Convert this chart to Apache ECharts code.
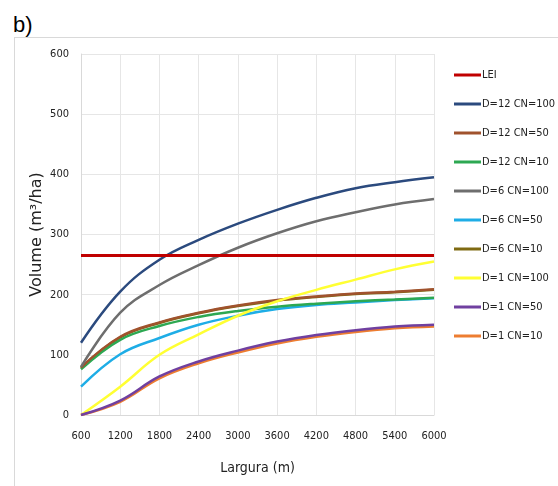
<!DOCTYPE html>
<html>
<head>
<meta charset="utf-8">
<script src="https://cdn.jsdelivr.net/npm/echarts@6/dist/echarts.min.js"></script>
<style>
html,body{margin:0;padding:0;background:#fff;}
#wrap{position:relative;width:558px;height:486px;overflow:hidden;}
#frame{position:absolute;left:14px;top:37px;width:600px;height:500px;border:1px solid #d9d9d9;box-sizing:border-box;}
#lbl{position:absolute;left:13px;top:12px;font-family:"Liberation Sans",Arial,sans-serif;font-size:22px;color:#000;}
#chart{position:absolute;left:0;top:0;width:558px;height:486px;}
</style>
</head>
<body>
<div id="wrap">
<div id="frame"></div>
<div id="lbl">b)</div>
<div id="chart"></div>
</div>
<script>
const larguras = [600, 1200, 1800, 2400, 3000, 3600, 4200, 4800, 5400, 6000];
const seriesNames = ["LEI", "D=12 CN=100", "D=12 CN=50", "D=12 CN=10", "D=6 CN=100", "D=6 CN=50", "D=6 CN=10", "D=1 CN=100", "D=1 CN=50", "D=1 CN=10"];
const lei        = [265, 265, 265, 265, 265, 265, 265, 265, 265, 265];
const d12cn100   = [120, 205, 258, 291, 318, 341, 361, 377, 387, 395];
const d12cn50    = [79, 130, 154, 170, 182, 191, 197, 202, 205, 209];
const d12cn10    = [76, 125, 148, 163, 173, 180, 185, 189, 192, 195];
const d6cn100    = [80, 170, 216, 249, 278, 302, 322, 337, 350, 359];
const d6cn50     = [47, 101, 128, 150, 165, 176, 183, 187, 191, 194];
const d6cn10     = [78, 129, 153, 169, 181, 190, 196, 201, 204, 208];
const d1cn100    = [0, 47, 100, 134, 165, 189, 208, 225, 242, 255];
const d1cn50     = [0, 24, 64, 89, 107, 122, 133, 141, 147, 150];
const d1cn10     = [0, 22, 61, 86, 104, 119, 130, 138, 144, 147];
const yTicks = [0, 100, 200, 300, 400, 500, 600];

const values = [lei, d12cn100, d12cn50, d12cn10, d6cn100, d6cn50, d6cn10, d1cn100, d1cn50, d1cn10];
const colors = ["#C00000", "#2B4A7E", "#A0522D", "#2DA852", "#6E6E6E", "#1EADE6", "#7F6A12", "#FFFF33", "#7040A0", "#ED7D31"];
const zOrder = [10, 9, 5, 4, 8, 3, 1, 6, 7, 6];

const chart = echarts.init(document.getElementById('chart'), null, {renderer: 'canvas'});
const narrow = '"Liberation Sans Narrow","DejaVu Sans Condensed",sans-serif';
chart.setOption({
  animation: false,
  grid: {left: 81, right: 124, top: 54, bottom: 71, containLabel: false},
  legend: {
    orient: 'vertical', left: 449, top: 63,
    itemWidth: 27, itemHeight: 3, itemGap: 15,
    icon: 'rect',
    data: seriesNames,
    textStyle: {fontFamily: narrow, fontSize: 11, color: '#222', lineHeight: 14, padding: [0,0,0,-4]}
  },
  xAxis: {
    type: 'value', min: 600, max: 6000, interval: 600,
    name: 'Largura (m)', nameLocation: 'middle', nameGap: 46,
    nameTextStyle: {fontFamily: narrow, fontSize: 14, color: '#222'},
    axisLine: {show: true, lineStyle: {color: '#d9d9d9'}},
    axisTick: {show: false},
    axisLabel: {fontFamily: narrow, fontSize: 11, color: '#222', margin: 16,
      formatter: v => String(v)},
    splitLine: {show: true, lineStyle: {color: '#e6e6e6'}}
  },
  yAxis: {
    type: 'value', min: 0, max: 600, interval: 100,
    name: 'Volume (m³/ha)', nameLocation: 'middle', nameGap: 36, nameMoveOverlap: false,
    nameTextStyle: {fontFamily: '"DejaVu Sans",sans-serif', fontSize: 16, color: '#222'},
    axisLine: {show: true, lineStyle: {color: '#d9d9d9'}},
    axisTick: {show: false},
    axisLabel: {fontFamily: narrow, fontSize: 11, color: '#222', margin: 12,
      formatter: v => yTicks.includes(v) ? String(v) : ''},
    splitLine: {show: true, lineStyle: {color: '#e6e6e6'}}
  },
  series: seriesNames.map((n, i) => ({
    name: n, type: 'line', smooth: 0.4, showSymbol: false, symbol: 'none',
    z: zOrder[i],
    data: larguras.map((x, j) => [x, values[i][j]]),
    lineStyle: {width: i === 0 ? 3 : 2.5, color: colors[i]},
    itemStyle: {color: colors[i]}
  }))
});
</script>
</body>
</html>
